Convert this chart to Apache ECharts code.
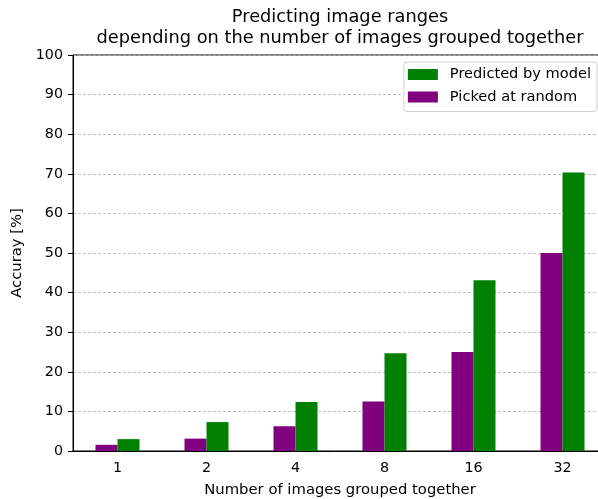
<!DOCTYPE html>
<html>
<head>
<meta charset="utf-8">
<script src="https://cdn.jsdelivr.net/npm/echarts@6/dist/echarts.min.js"></script>
<style>
  html, body { margin: 0; padding: 0; background: #fff; }
  #chart { width: 598px; height: 499px; }
</style>
</head>
<body>
<div id="chart"></div>
<script>
// Group sizes on the x axis
const groupSizes = ['1', '2', '4', '8', '16', '32'];
// Accuracy (%) of the model's predictions per group size
const predictedByModel = [3.0, 7.3, 12.4, 24.7, 43.1, 70.3];
// Accuracy (%) of a random pick per group size
const pickedAtRandom = [1.5625, 3.125, 6.25, 12.5, 25, 50];
// Y axis ticks
const yMin = 0, yMax = 100, yStep = 10;

const FONT = 'DejaVu Sans';
const TICK_SIZE = 14.3;
const LABEL_SIZE = 14.8;
const chart = echarts.init(document.getElementById('chart'), null, { renderer: 'canvas' });

chart.setOption({
  animation: false,
  backgroundColor: '#ffffff',
  textStyle: { fontFamily: FONT, color: '#000' },
  title: {
    text: 'Predicting image ranges\ndepending on the number of images grouped together',
    left: 340,
    top: 7,
    padding: 0,
    textAlign: 'center',
    textStyle: { fontFamily: FONT, fontSize: 17.8, fontWeight: 'normal', color: '#000', lineHeight: 21 }
  },
  legend: {
    orient: 'vertical',
    right: 1,
    top: 62,
    data: ['Predicted by model', 'Picked at random'],
    itemWidth: 30,
    itemHeight: 11,
    itemGap: 7.5,
    padding: [5, 6, 7, 4],
    backgroundColor: '#fff',
    borderColor: '#d0d0d0',
    borderWidth: 1,
    borderRadius: 3,
    icon: 'rect',
    textStyle: { fontFamily: FONT, fontSize: 14.6, color: '#000', padding: [0, 0, 0, 7] }
  },
  grid: {
    left: 73,
    width: 534,
    top: 55,
    bottom: 48,
    outerBoundsMode: 'none',
    show: true,
    borderColor: '#000',
    borderWidth: 1,
    backgroundColor: 'transparent'
  },
  xAxis: {
    type: 'category',
    data: groupSizes,
    name: 'Number of images grouped together',
    nameLocation: 'middle',
    nameGap: 32,
    nameTextStyle: { fontFamily: FONT, fontSize: LABEL_SIZE, color: '#000' },
    axisLine: { lineStyle: { color: '#000', width: 1 } },
    axisTick: { alignWithLabel: true, length: 5, lineStyle: { color: '#000' } },
    axisLabel: { fontFamily: FONT, fontSize: TICK_SIZE, color: '#000', margin: 10 },
    splitLine: { show: false }
  },
  yAxis: {
    type: 'value',
    min: yMin,
    max: yMax,
    interval: yStep,
    name: 'Accuray [%]',
    nameLocation: 'middle',
    nameGap: 47,
    nameTextStyle: { fontFamily: FONT, fontSize: LABEL_SIZE, color: '#000' },
    axisLine: { show: true, lineStyle: { color: '#000', width: 1 } },
    axisTick: { show: true, length: 5, lineStyle: { color: '#000' } },
    axisLabel: { fontFamily: FONT, fontSize: TICK_SIZE, color: '#000', margin: 10 },
    splitLine: { show: true, lineStyle: { color: '#b0b0b0', type: [3, 2], width: 0.8 } }
  },
  series: [
    {
      name: 'Picked at random',
      type: 'bar',
      data: pickedAtRandom,
      barWidth: 22,
      barGap: '0%',
      itemStyle: { color: '#800080' }
    },
    {
      name: 'Predicted by model',
      type: 'bar',
      data: predictedByModel,
      barWidth: 22,
      barGap: '0%',
      itemStyle: { color: '#008000' }
    }
  ]
});
</script>
</body>
</html>
